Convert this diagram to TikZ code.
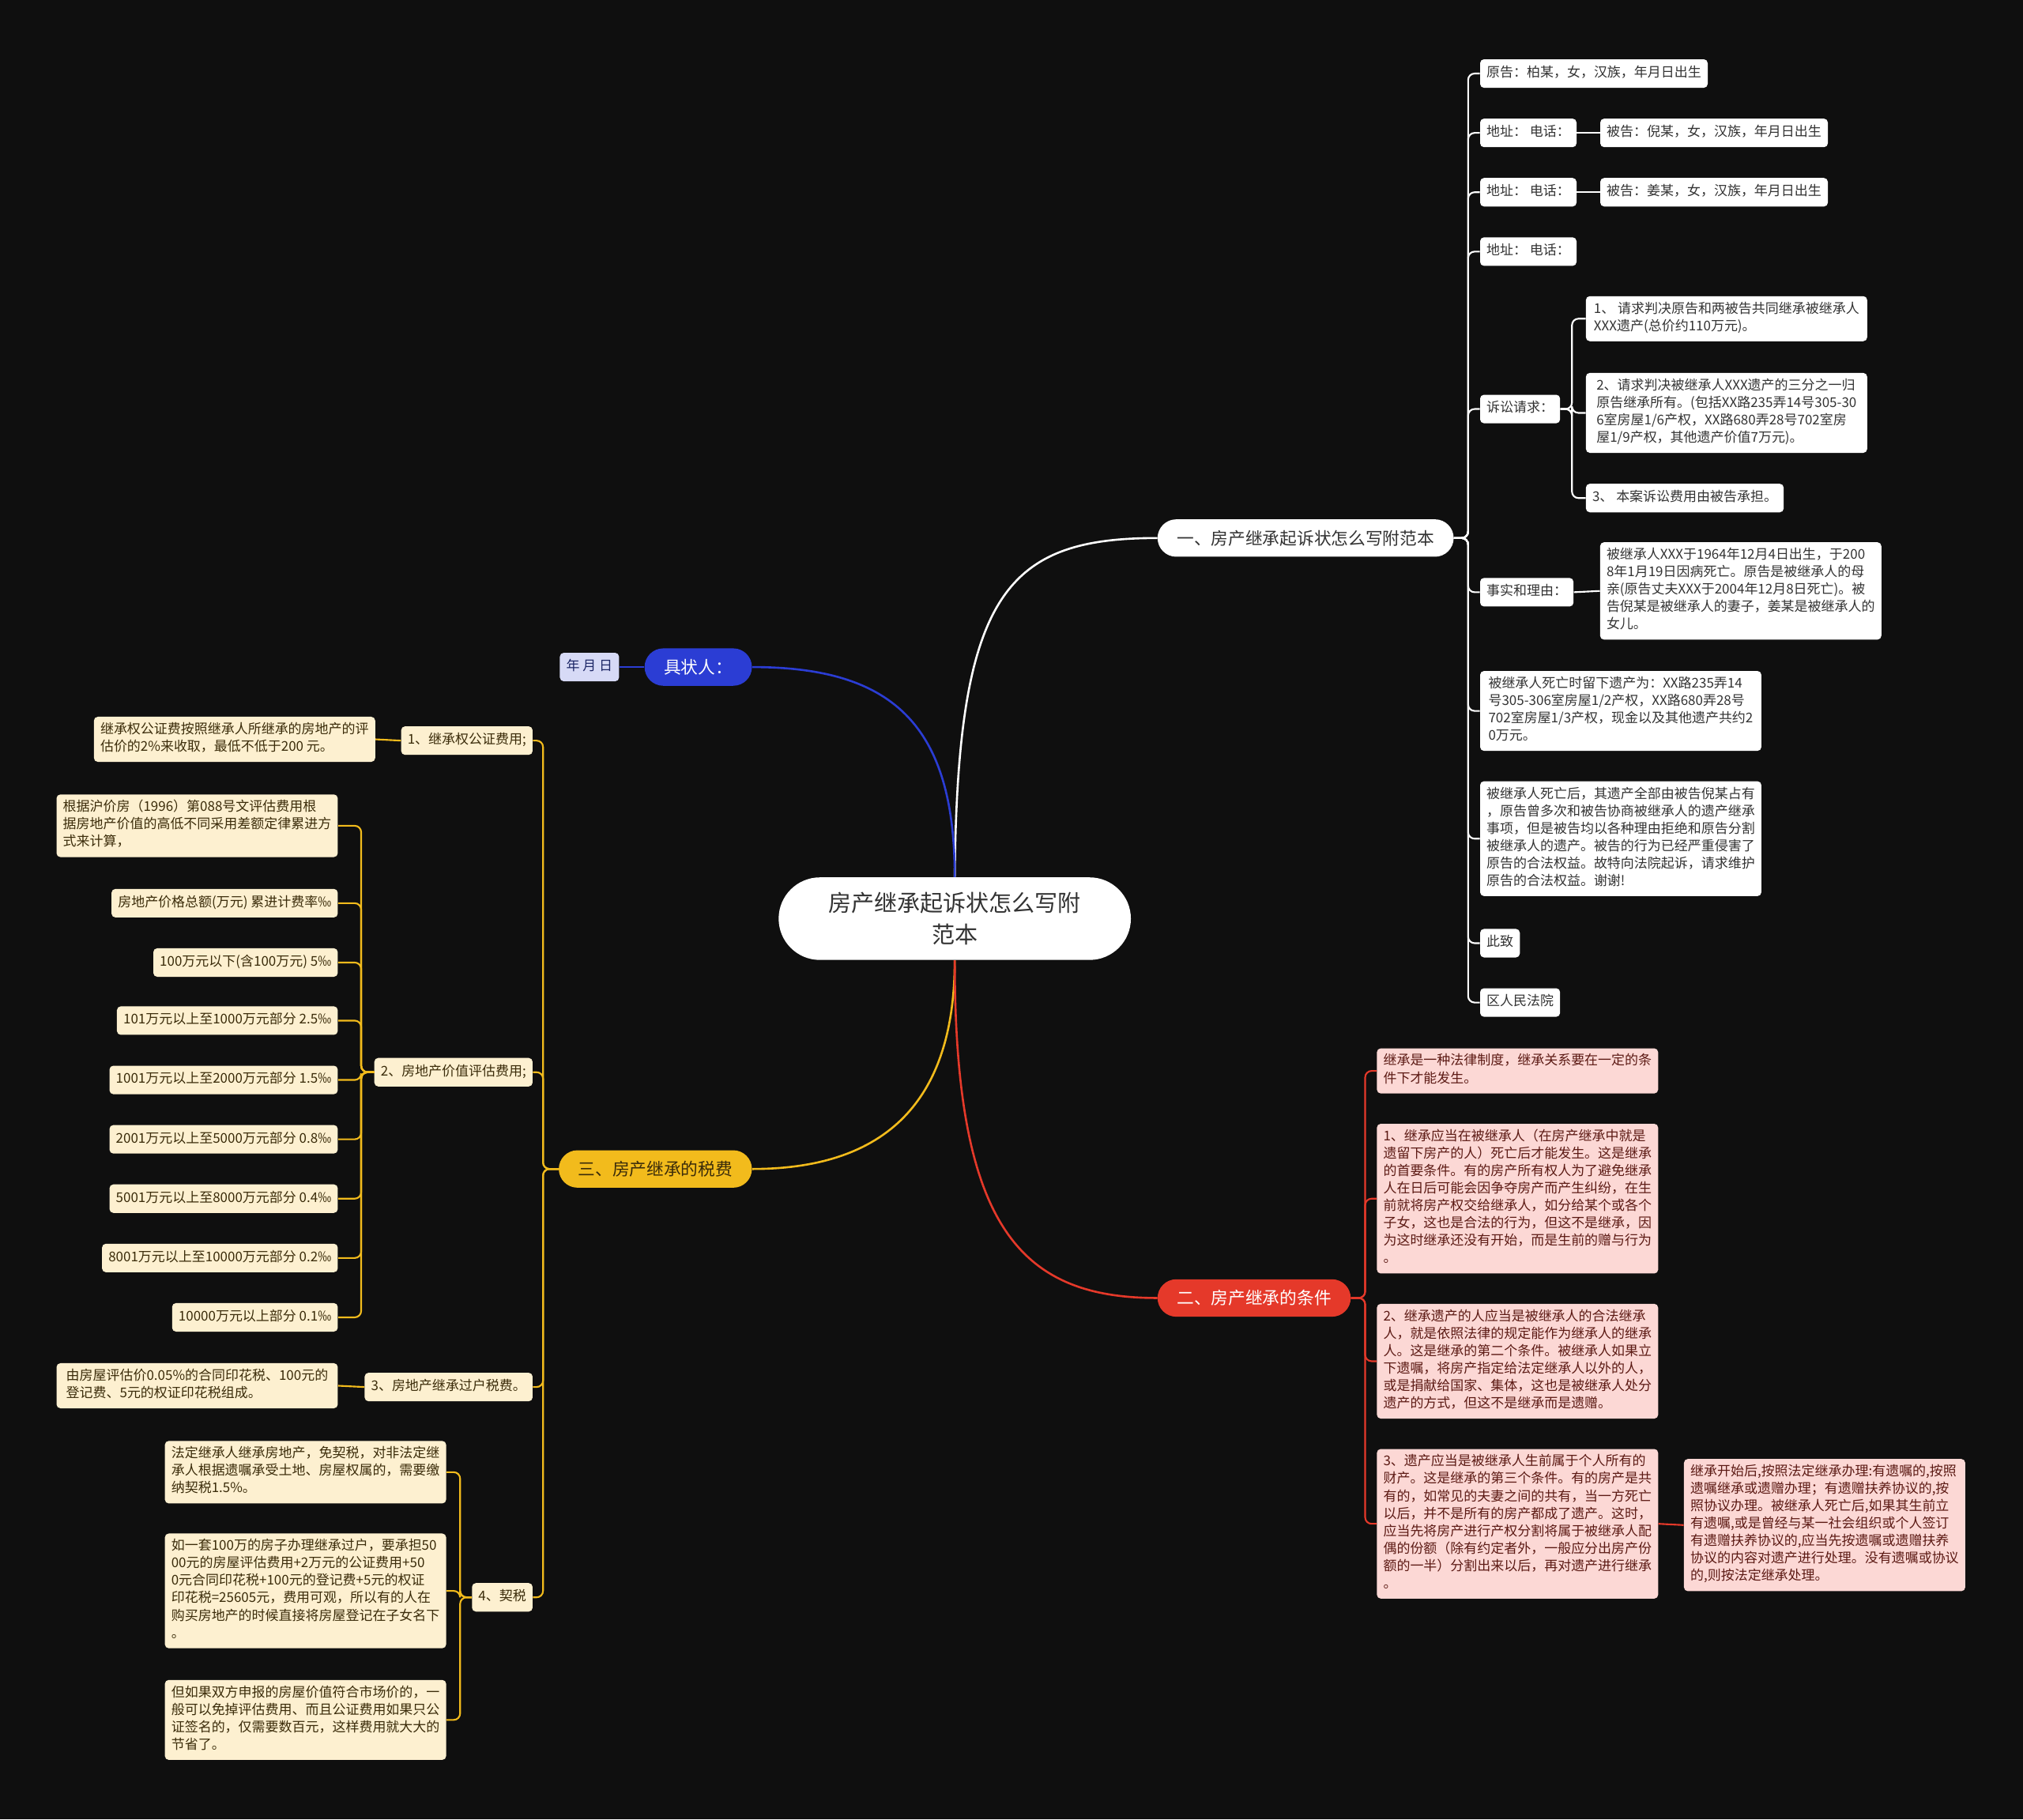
\documentclass[tikz,border=0pt]{standalone}
\usepackage{fontspec}
\setmainfont{Noto Sans CJK SC}
\usepackage{tikz}
\usetikzlibrary{positioning}
\definecolor{mapBg}{HTML}{0F0F0F}
\definecolor{leafInk}{HTML}{333333}
\definecolor{caseRed}{HTML}{E5392A}
\definecolor{casePink}{HTML}{FCD8D5}
\definecolor{pinkInk}{HTML}{5C1A14}
\definecolor{taxGold}{HTML}{F2BB1C}
\definecolor{taxCream}{HTML}{FDF0D0}
\definecolor{goldInk}{HTML}{3B2C0A}
\definecolor{signBlue}{HTML}{2B3DD4}
\definecolor{signLav}{HTML}{D7DAF6}
\definecolor{blueInk}{HTML}{1D2766}
\tikzset{
  leafbox/.style={inner xsep=5pt, inner ysep=4.3pt, rounded corners=3pt, align=left,
    font=\fontsize{10.4}{13.5}\selectfont, execute at begin node=\strut, execute at end node=\strut},
  wbox/.style={leafbox, fill=white, text=leafInk},
  pbox/.style={leafbox, fill=casePink, text=pinkInk},
  ybox/.style={leafbox, fill=taxCream, text=goldInk},
  lbox/.style={leafbox, fill=signLav, text=blueInk},
  wide/.style={minimum width=218pt},
  topic/.style={inner xsep=15pt, minimum height=29pt, rounded corners=14.5pt, font=\fontsize{13.3}{16}\selectfont},
  rootbox/.style={fill=white, text=leafInk, rounded corners=32pt, minimum width=273pt, minimum height=64pt,
    align=center, font=\fontsize{17.8}{24.5}\selectfont},
  wline/.style={draw=white, line width=1.3pt, rounded corners=5pt},
  rline/.style={draw=caseRed, line width=1.3pt, rounded corners=5pt},
  yline/.style={draw=taxGold, line width=1.3pt, rounded corners=5pt},
  bline/.style={draw=signBlue, line width=1.3pt}
}
\begin{document}
\begin{tikzpicture}[x=1pt, y=-1pt]
  \fill[mapBg] (0,0) rectangle (1568,1410);
  % centre and main topics
  \node[rootbox] (root) at (740,712) {房产继承起诉状怎么写附\\范本};
  \node[topic, fill=white, text=leafInk, anchor=west] (topicA) at (897,417) {一、房产继承起诉状怎么写附范本};
  \node[topic, fill=caseRed, text=white, anchor=west] (topicB) at (897,1006) {二、房产继承的条件};
  \node[topic, fill=taxGold, text=goldInk, anchor=east] (topicC) at (583,906) {三、房产继承的税费};
  \node[topic, fill=signBlue, text=white, anchor=east] (topicD) at (583,517) {具状人：};
  \node[lbox, anchor=east] (date) at (480,517) {年 月 日};
  \draw[wline, line width=1.6pt] (root.north) .. controls (742,460) and (780,417) .. (topicA.west);
  \draw[bline, line width=1.6pt] (root.north) .. controls (740,560) and (690,517) .. (topicD.east);
  \draw[yline, line width=1.6pt] (root.south) .. controls (740,860) and (680,906) .. (topicC.east);
  \draw[rline, line width=1.6pt] (root.south) .. controls (740,950) and (790,1006) .. (topicB.west);
  \draw[bline] (topicD.west) -- (date.east);

  % complaint
  \node[wbox, anchor=west] (plaintiff) at (1147,57) {原告：柏某，女，汉族，年月日出生};
  \node[wbox, anchor=west] (addrA) at (1147,103) {地址： 电话：};
  \node[wbox, anchor=west] (addrB) at (1147,149) {地址： 电话：};
  \node[wbox, anchor=west] (addrC) at (1147,195) {地址： 电话：};
  \node[wbox, right=18pt of addrA] (defA) {被告：倪某，女，汉族，年月日出生};
  \node[wbox, right=18pt of addrB] (defB) {被告：姜某，女，汉族，年月日出生};
  \node[wbox, anchor=west] (claims) at (1147,317) {诉讼请求：};
  \node[wbox, wide, anchor=west] (claimA) at (1229,247) {1、 请求判决原告和两被告共同继承被继承人\\XXX遗产(总价约110万元)。};
  \node[wbox, wide, anchor=west] (claimB) at (1229,320) {2、请求判决被继承人XXX遗产的三分之一归\\原告继承所有。(包括XX路235弄14号305-30\\6室房屋1/6产权，XX路680弄28号702室房\\屋1/9产权，其他遗产价值7万元)。};
  \node[wbox, anchor=west] (claimC) at (1229,386) {3、 本案诉讼费用由被告承担。};
  \node[wbox, anchor=west] (facts) at (1147,459) {事实和理由：};
  \node[wbox, wide, anchor=west] (factsTxt) at (1240,458) {被继承人XXX于1964年12月4日出生，于200\\8年1月19日因病死亡。原告是被继承人的母\\亲(原告丈夫XXX于2004年12月8日死亡)。被\\告倪某是被继承人的妻子，姜某是被继承人的\\女儿。};
  \node[wbox, wide, anchor=west] (estate) at (1147,551) {被继承人死亡时留下遗产为：XX路235弄14\\号305-306室房屋1/2产权，XX路680弄28号\\702室房屋1/3产权，现金以及其他遗产共约2\\0万元。};
  \node[wbox, wide, anchor=west] (occupy) at (1147,650) {被继承人死亡后，其遗产全部由被告倪某占有\\，原告曾多次和被告协商被继承人的遗产继承\\事项，但是被告均以各种理由拒绝和原告分割\\被继承人的遗产。被告的行为已经严重侵害了\\原告的合法权益。故特向法院起诉，请求维护\\原告的合法权益。谢谢!};
  \node[wbox, anchor=west] (cizhi) at (1147,731) {此致};
  \node[wbox, anchor=west] (court) at (1147,777) {区人民法院};
  \draw[wline] (topicA.east) -- ++(11,0) |- (plaintiff.west);
  \draw[wline] (topicA.east) -- ++(11,0) |- (addrA.west);
  \draw[wline] (topicA.east) -- ++(11,0) |- (addrB.west);
  \draw[wline] (topicA.east) -- ++(11,0) |- (addrC.west);
  \draw[wline] (topicA.east) -- ++(11,0) |- (claims.west);
  \draw[wline] (topicA.east) -- ++(11,0) |- (facts.west);
  \draw[wline] (topicA.east) -- ++(11,0) |- (estate.west);
  \draw[wline] (topicA.east) -- ++(11,0) |- (occupy.west);
  \draw[wline] (topicA.east) -- ++(11,0) |- (cizhi.west);
  \draw[wline] (topicA.east) -- ++(11,0) |- (court.west);
  \draw[wline] (addrA.east) -- (defA.west);
  \draw[wline] (addrB.east) -- (defB.west);
  \draw[wline] (claims.east) -- ++(9,0) |- (claimA.west);
  \draw[wline] (claims.east) -- ++(9,0) |- (claimB.west);
  \draw[wline] (claims.east) -- ++(9,0) |- (claimC.west);
  \draw[wline] (facts.east) -- (factsTxt.west);

  % conditions
  \node[pbox, wide, anchor=west] (condA) at (1067,830) {继承是一种法律制度，继承关系要在一定的条\\件下才能发生。};
  \node[pbox, wide, anchor=west] (condB) at (1067,929) {1、继承应当在被继承人（在房产继承中就是\\遗留下房产的人）死亡后才能发生。这是继承\\的首要条件。有的房产所有权人为了避免继承\\人在日后可能会因争夺房产而产生纠纷，在生\\前就将房产权交给继承人，如分给某个或各个\\子女，这也是合法的行为，但这不是继承，因\\为这时继承还没有开始，而是生前的赠与行为\\。};
  \node[pbox, wide, anchor=west] (condC) at (1067,1055) {2、继承遗产的人应当是被继承人的合法继承\\人，就是依照法律的规定能作为继承人的继承\\人。这是继承的第二个条件。被继承人如果立\\下遗嘱，将房产指定给法定继承人以外的人，\\或是捐献给国家、集体，这也是被继承人处分\\遗产的方式，但这不是继承而是遗赠。};
  \node[pbox, wide, anchor=west] (condD) at (1067,1181) {3、遗产应当是被继承人生前属于个人所有的\\财产。这是继承的第三个条件。有的房产是共\\有的，如常见的夫妻之间的共有，当一方死亡\\以后，并不是所有的房产都成了遗产。这时，\\应当先将房产进行产权分割将属于被继承人配\\偶的份额（除有约定者外，一般应分出房产份\\额的一半）分割出来以后，再对遗产进行继承\\。};
  \node[pbox, wide, anchor=west] (condNote) at (1305,1182) {继承开始后,按照法定继承办理:有遗嘱的,按照\\遗嘱继承或遗赠办理；有遗赠扶养协议的,按\\照协议办理。被继承人死亡后,如果其生前立\\有遗嘱,或是曾经与某一社会组织或个人签订\\有遗赠扶养协议的,应当先按遗嘱或遗赠扶养\\协议的内容对遗产进行处理。没有遗嘱或协议\\的,则按法定继承处理。};
  \draw[rline] (topicB.east) -- ++(11,0) |- (condA.west);
  \draw[rline] (topicB.east) -- ++(11,0) |- (condB.west);
  \draw[rline] (topicB.east) -- ++(11,0) |- (condC.west);
  \draw[rline] (topicB.east) -- ++(11,0) |- (condD.west);
  \draw[rline] (condD.east) -- (condNote.west);

  % taxes and fees
  \node[ybox, anchor=east] (feeA) at (413,574) {1、继承权公证费用;};
  \node[ybox, wide, anchor=east] (feeAtxt) at (291,573) {继承权公证费按照继承人所继承的房地产的评\\估价的2\%来收取，最低不低于200 元。};
  \node[ybox, anchor=east] (feeB) at (413,831) {2、房地产价值评估费用;};
  \node[ybox, wide, anchor=east] (rule) at (262,640) {根据沪价房（1996）第088号文评估费用根\\据房地产价值的高低不同采用差额定律累进方\\式来计算，};
  \node[ybox, anchor=east] (rateHead) at (262,700) {房地产价格总额(万元) 累进计费率‰};
  \node[ybox, anchor=east] (rateA) at (262,746) {100万元以下(含100万元) 5‰};
  \node[ybox, anchor=east] (rateB) at (262,791) {101万元以上至1000万元部分 2.5‰};
  \node[ybox, anchor=east] (rateC) at (262,837) {1001万元以上至2000万元部分 1.5‰};
  \node[ybox, anchor=east] (rateD) at (262,883) {2001万元以上至5000万元部分 0.8‰};
  \node[ybox, anchor=east] (rateE) at (262,929) {5001万元以上至8000万元部分 0.4‰};
  \node[ybox, anchor=east] (rateF) at (262,975) {8001万元以上至10000万元部分 0.2‰};
  \node[ybox, anchor=east] (rateG) at (262,1021) {10000万元以上部分 0.1‰};
  \node[ybox, anchor=east] (feeC) at (413,1075) {3、房地产继承过户税费。};
  \node[ybox, wide, anchor=east] (feeCtxt) at (262,1074) {由房屋评估价0.05\%的合同印花税、100元的\\登记费、5元的权证印花税组成。};
  \node[ybox, anchor=east] (deed) at (413,1238) {4、契税};
  \node[ybox, wide, anchor=east] (deedA) at (346,1141) {法定继承人继承房地产，免契税，对非法定继\\承人根据遗嘱承受土地、房屋权属的，需要缴\\纳契税1.5\%。};
  \node[ybox, wide, anchor=east] (deedB) at (346,1233) {如一套100万的房子办理继承过户，要承担50\\00元的房屋评估费用+2万元的公证费用+50\\0元合同印花税+100元的登记费+5元的权证\\印花税=25605元，费用可观，所以有的人在\\购买房地产的时候直接将房屋登记在子女名下\\。};
  \node[ybox, wide, anchor=east] (deedC) at (346,1333) {但如果双方申报的房屋价值符合市场价的，一\\般可以免掉评估费用、而且公证费用如果只公\\证签名的，仅需要数百元，这样费用就大大的\\节省了。};
  \draw[yline] (topicC.west) -- ++(-12,0) |- (feeA.east);
  \draw[yline] (topicC.west) -- ++(-12,0) |- (feeB.east);
  \draw[yline] (topicC.west) -- ++(-12,0) |- (feeC.east);
  \draw[yline] (topicC.west) -- ++(-12,0) |- (deed.east);
  \draw[yline] (feeA.west) -- (feeAtxt.east);
  \draw[yline] (feeB.west) -- ++(-10,0) |- (rule.east);
  \draw[yline] (feeB.west) -- ++(-10,0) |- (rateHead.east);
  \draw[yline] (feeB.west) -- ++(-10,0) |- (rateA.east);
  \draw[yline] (feeB.west) -- ++(-10,0) |- (rateB.east);
  \draw[yline] (feeB.west) -- ++(-10,0) |- (rateC.east);
  \draw[yline] (feeB.west) -- ++(-10,0) |- (rateD.east);
  \draw[yline] (feeB.west) -- ++(-10,0) |- (rateE.east);
  \draw[yline] (feeB.west) -- ++(-10,0) |- (rateF.east);
  \draw[yline] (feeB.west) -- ++(-10,0) |- (rateG.east);
  \draw[yline] (feeC.west) -- (feeCtxt.east);
  \draw[yline] (deed.west) -- ++(-9,0) |- (deedA.east);
  \draw[yline] (deed.west) -- ++(-9,0) |- (deedB.east);
  \draw[yline] (deed.west) -- ++(-9,0) |- (deedC.east);
\end{tikzpicture}
\end{document}
